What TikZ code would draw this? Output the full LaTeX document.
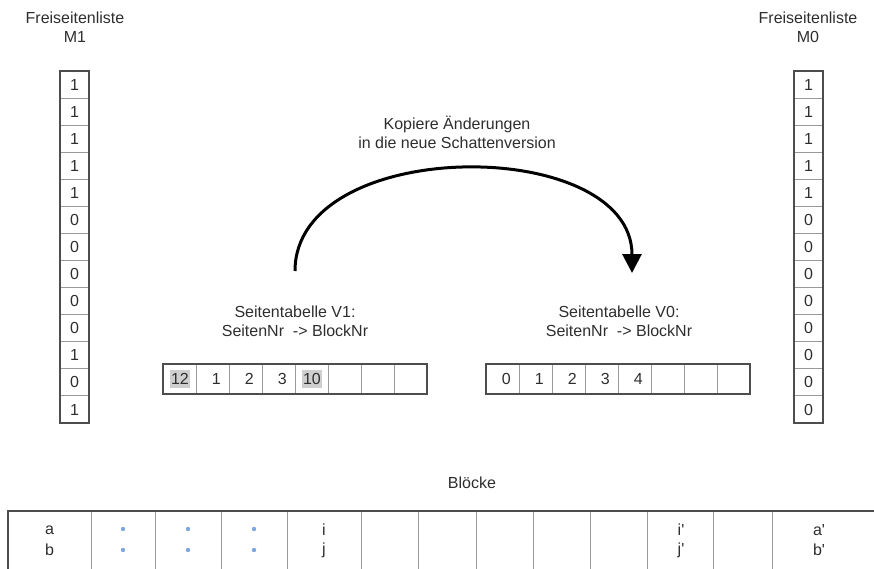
\documentclass[tikz,border=0pt]{standalone}
\usepackage{fontspec}
\setmainfont{Liberation Sans}[Ligatures=TeXOff]
\usetikzlibrary{arrows.meta}
\definecolor{txt}{HTML}{2E2E2E}
\definecolor{frameline}{HTML}{4D4D4D}
\definecolor{gridline}{HTML}{9A9A9A}
\definecolor{hilite}{HTML}{CFCFCF}
\definecolor{dotblue}{HTML}{7EA6E0}
\begin{document}
\begin{tikzpicture}[x=1pt,y=-1pt,
  font=\fontsize{16}{19}\selectfont, text=txt,
  textlbl/.style={align=center, inner sep=0pt},
  vcell/.style={draw=gridline, line width=1pt, minimum width=29pt, minimum height=27.08pt, inner sep=0pt, outer sep=0pt},
  hcell/.style={draw=gridline, line width=1pt, minimum width=33pt, minimum height=30pt, inner sep=0pt, outer sep=0pt},
  outline/.style={draw=frameline, line width=1.4pt},
  numtext/.style={anchor=east, inner xsep=1pt, inner ysep=3pt},
  hilitenum/.style={numtext, fill=hilite},
  blockdot/.style={circle, fill=dotblue, inner sep=0pt, minimum size=4.4pt},
  bigarrow/.style={line width=3pt, -{Triangle[length=19pt,width=19pt]}}
]
\useasboundingbox (0,0) rectangle (874,569);

% free page lists
\node[textlbl] (m1title) at (75,27) {Freiseitenliste\\M1};
\node[textlbl] (m0title) at (808,27) {Freiseitenliste\\M0};
\foreach \v [count=\i from 0] in {1,1,1,1,1,0,0,0,0,0,1,0,1}
  \node[vcell] (m1c\i) at (74.5,{71+27.08*(\i+0.5)}) {\v};
\foreach \v [count=\i from 0] in {1,1,1,1,1,0,0,0,0,0,0,0,0}
  \node[vcell] (m0c\i) at (808.5,{71+27.08*(\i+0.5)}) {\v};
\draw[outline] (m1c0.north west) rectangle (m1c12.south east);
\draw[outline] (m0c0.north west) rectangle (m0c12.south east);

% page tables
\node[textlbl] (v1title) at (295,321) {Seitentabelle V1:\\SeitenNr\ \ -> BlockNr};
\node[textlbl] (v0title) at (619,321) {Seitentabelle V0:\\SeitenNr\ \ -> BlockNr};
\foreach \i in {0,...,7} {
  \node[hcell] (v1c\i) at ({163+33*(\i+0.5)},379) {};
  \node[hcell] (v0c\i) at ({486+33*(\i+0.5)},379) {};
}
\draw[outline] (v1c0.north west) rectangle (v1c7.south east);
\draw[outline] (v0c0.north west) rectangle (v0c7.south east);
\node[hilitenum] (v1n0) at ([xshift=-6pt]v1c0.east) {12};
\node[numtext]  (v1n1) at ([xshift=-7pt]v1c1.east) {1};
\node[numtext]  (v1n2) at ([xshift=-7pt]v1c2.east) {2};
\node[numtext]  (v1n3) at ([xshift=-7pt]v1c3.east) {3};
\node[hilitenum] (v1n4) at ([xshift=-6pt]v1c4.east) {10};
\foreach \v [count=\i from 0] in {0,1,2,3,4}
  \node[numtext] (v0n\i) at ([xshift=-7pt]v0c\i.east) {\v};

% copy arrow
\node[textlbl] (copytext) at (457,132) {Kopiere Änderungen\\in die neue Schattenversion};
\coordinate (arrowstart) at (295,271);
\coordinate (arrowend) at (632,273);
\draw[bigarrow] (arrowstart) .. controls (295,135) and (632,135) .. (arrowend);

% blocks
\node[textlbl] (blocktitle) at (472,483) {Blöcke};
\foreach \x in {91,155,221,287,361,418,476,533,590,647,713,772}
  \draw[gridline, line width=1pt] (\x,511) -- (\x,569);
\draw[outline] (8,569) -- (8,511) -- (874,511);
\node (ba) at (49.5,530) {a};
\node (bb) at (49.5,550) {b};
\foreach \c [count=\k] in {123,188,254} {
  \node[blockdot] (dt\k) at (\c,529) {};
  \node[blockdot] (db\k) at (\c,550) {};
}
\node (bi) at (324,530) {i};
\node (bj) at (324,550) {j};
\node (bi2) at (681,530) {i'};
\node (bj2) at (681,550) {j'};
\node (ba2) at (819,530) {a'};
\node (bb2) at (819,550) {b'};
\end{tikzpicture}
\end{document}
